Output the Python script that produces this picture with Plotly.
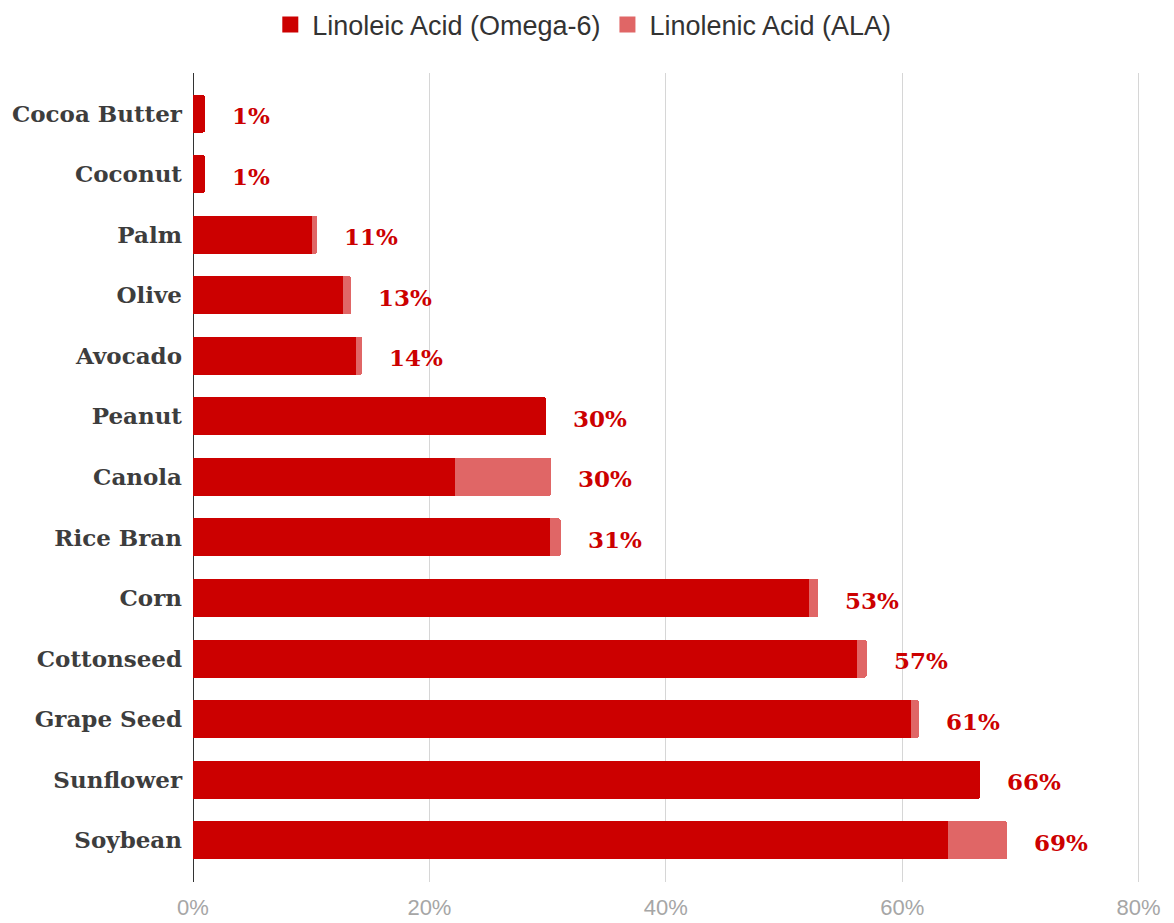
import plotly.graph_objects as go

categories = ["Cocoa Butter", "Coconut", "Palm", "Olive", "Avocado", "Peanut", "Canola",
              "Rice Bran", "Corn", "Cottonseed", "Grape Seed", "Sunflower", "Soybean"]
linoleic = [1.0, 1.0, 10.1, 12.7, 13.8, 29.9, 22.2, 30.2, 52.1, 56.2, 60.7, 66.6, 63.9]
linolenic = [0.0, 0.0, 0.4, 0.7, 0.5, 0.0, 8.1, 0.9, 0.8, 0.8, 0.7, 0.0, 5.0]
total_labels = ["1%", "1%", "11%", "13%", "14%", "30%", "30%", "31%", "53%", "57%", "61%", "66%", "69%"]
series_names = ["Linoleic Acid (Omega-6)", "Linolenic Acid (ALA)"]
x_ticks = [0, 20, 40, 60, 80]
x_tick_labels = ["0%", "20%", "40%", "60%", "80%"]

DARK = "#cc0000"
LIGHT = "#e06666"

fig = go.Figure()
fig.add_trace(go.Bar(y=categories, x=linoleic, orientation="h", name=series_names[0],
                     marker=dict(color=DARK, line=dict(width=0)), showlegend=False))
fig.add_trace(go.Bar(y=categories, x=linolenic, orientation="h", name=series_names[1],
                     marker=dict(color=LIGHT, line=dict(width=0)), showlegend=False))
# legend entries with larger square symbols
for nm, col in zip(series_names, [DARK, LIGHT]):
    fig.add_trace(go.Scatter(x=[None], y=[None], mode="markers", name=nm,
                             marker=dict(symbol="square", size=22, color=col)))

totals = [a + b for a, b in zip(linoleic, linolenic)]
for cat, tot, lab in zip(categories, totals, total_labels):
    fig.add_annotation(x=tot, y=cat, text=lab, showarrow=False, xanchor="left", yanchor="middle",
                       xshift=25, yshift=-2,
                       font=dict(family="DejaVu Serif", size=23, color="#cc0000", weight="bold"))

fig.update_layout(
    width=1174, height=923,
    barmode="stack", bargap=0.372, barcornerradius=2,
    margin=dict(l=193, r=33, t=73, b=41, autoexpand=False),
    plot_bgcolor="white", paper_bgcolor="white",
    legend=dict(orientation="h", xref="container", yref="container", x=0.496, y=0.973,
                xanchor="center", yanchor="middle", font=dict(family="Liberation Sans", size=27, color="#333333"),
                traceorder="normal", itemwidth=34, itemsizing="trace"),
    xaxis=dict(range=[0, 80.2], tickvals=x_ticks, ticktext=x_tick_labels, showgrid=True,
               gridcolor="#d6d6d6", gridwidth=1, zeroline=True, zerolinecolor="#333333", zerolinewidth=1,
               showline=False, ticks="", ticklabelstandoff=10,
               tickfont=dict(family="Liberation Sans", size=22, color="#a6a6a6")),
    yaxis=dict(categoryorder="array", categoryarray=categories, range=[12.69, -0.67],
               showgrid=False, zeroline=False, showline=False, ticks="", ticklabelstandoff=10,
               tickfont=dict(family="DejaVu Serif", size=23, color="#3d3d3d", weight="bold")),
    showlegend=True,
)

fig.write_html("out.html")
